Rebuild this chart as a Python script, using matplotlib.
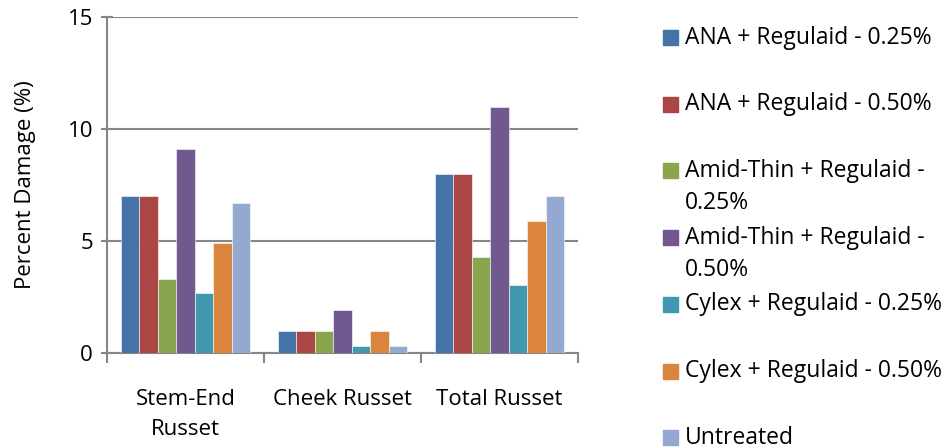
import numpy as np
import matplotlib
matplotlib.use("Agg")
import matplotlib.pyplot as plt
from matplotlib.patches import Rectangle

# --- data ---
categories = ["Stem-End\nRusset", "Cheek Russet", "Total Russet"]
series = [
    "ANA + Regulaid - 0.25%",
    "ANA + Regulaid - 0.50%",
    "Amid-Thin + Regulaid -\n0.25%",
    "Amid-Thin + Regulaid -\n0.50%",
    "Cylex + Regulaid - 0.25%",
    "Cylex + Regulaid - 0.50%",
    "Untreated",
]
ana_025 = [7.0, 1.0, 8.0]
ana_050 = [7.0, 1.0, 8.0]
amid_025 = [3.3, 1.0, 4.3]
amid_050 = [9.1, 1.9, 11.0]
cylex_025 = [2.7, 0.3, 3.05]
cylex_050 = [4.9, 1.0, 5.9]
untreated = [6.7, 0.3, 7.0]
values = [ana_025, ana_050, amid_025, amid_050, cylex_025, cylex_050, untreated]
colors = ["#4572A7", "#AA4643", "#89A54E", "#71588F", "#4198AF", "#DB843D", "#93A9CF"]

plt.rcParams['font.family'] = ['Open Sans', 'DejaVu Sans']
grey = '#868686'
fs = 16

fig = plt.figure(figsize=(9.51, 4.48), dpi=100)
ax = fig.add_axes([107 / 951, 1 - 353 / 448, (578 - 107) / 951, (353 - 17) / 448])

x = np.arange(len(categories))
w = 0.118
for j, (vals, col) in enumerate(zip(values, colors)):
    ax.bar(x + (j - 3) * w, vals, width=w, color=col, edgecolor='white', linewidth=0.4, zorder=3)

ax.set_xlim(-0.5, 2.5)
ax.set_ylim(0, 15)
ax.set_yticks([0, 5, 10, 15])
ax.yaxis.grid(True, color=grey, linewidth=1.5, zorder=0)

# category separator ticks and centred labels
ax.set_xticks([-0.5, 0.5, 1.5, 2.5])
ax.set_xticklabels([])
ax.set_xticks(x, minor=True)
ax.set_xticklabels(categories, minor=True, fontsize=fs, linespacing=1.55)
ax.tick_params(axis='x', which='major', length=7, width=1.5, color=grey, direction='out')
ax.tick_params(axis='x', which='minor', length=0, pad=26)
ax.tick_params(axis='y', length=8, width=1.5, color=grey, direction='inout', labelsize=fs, pad=6)

for s in ['top', 'right']:
    ax.spines[s].set_visible(False)
for s in ['left', 'bottom']:
    ax.spines[s].set_color(grey)
    ax.spines[s].set_linewidth(1.5)

ax.set_ylabel('Percent Damage (%)', fontsize=fs, labelpad=23)

# legend, one evenly spaced slot per series
H, W = 448, 951
for i, (name, col) in enumerate(zip(series, colors)):
    yc = 37.5 + i * 66.7
    fig.patches.append(Rectangle((663 / W, 1 - (yc + 7.5) / H), 15 / W, 15 / H,
                                 transform=fig.transFigure, color=col))
    lines = name.split("\n")
    for k, ln in enumerate(lines):
        fig.text(685 / W, 1 - (yc + k * 32.5) / H, ln, fontsize=16.5, va='center', ha='left')

fig.savefig("out.png", dpi=100)
